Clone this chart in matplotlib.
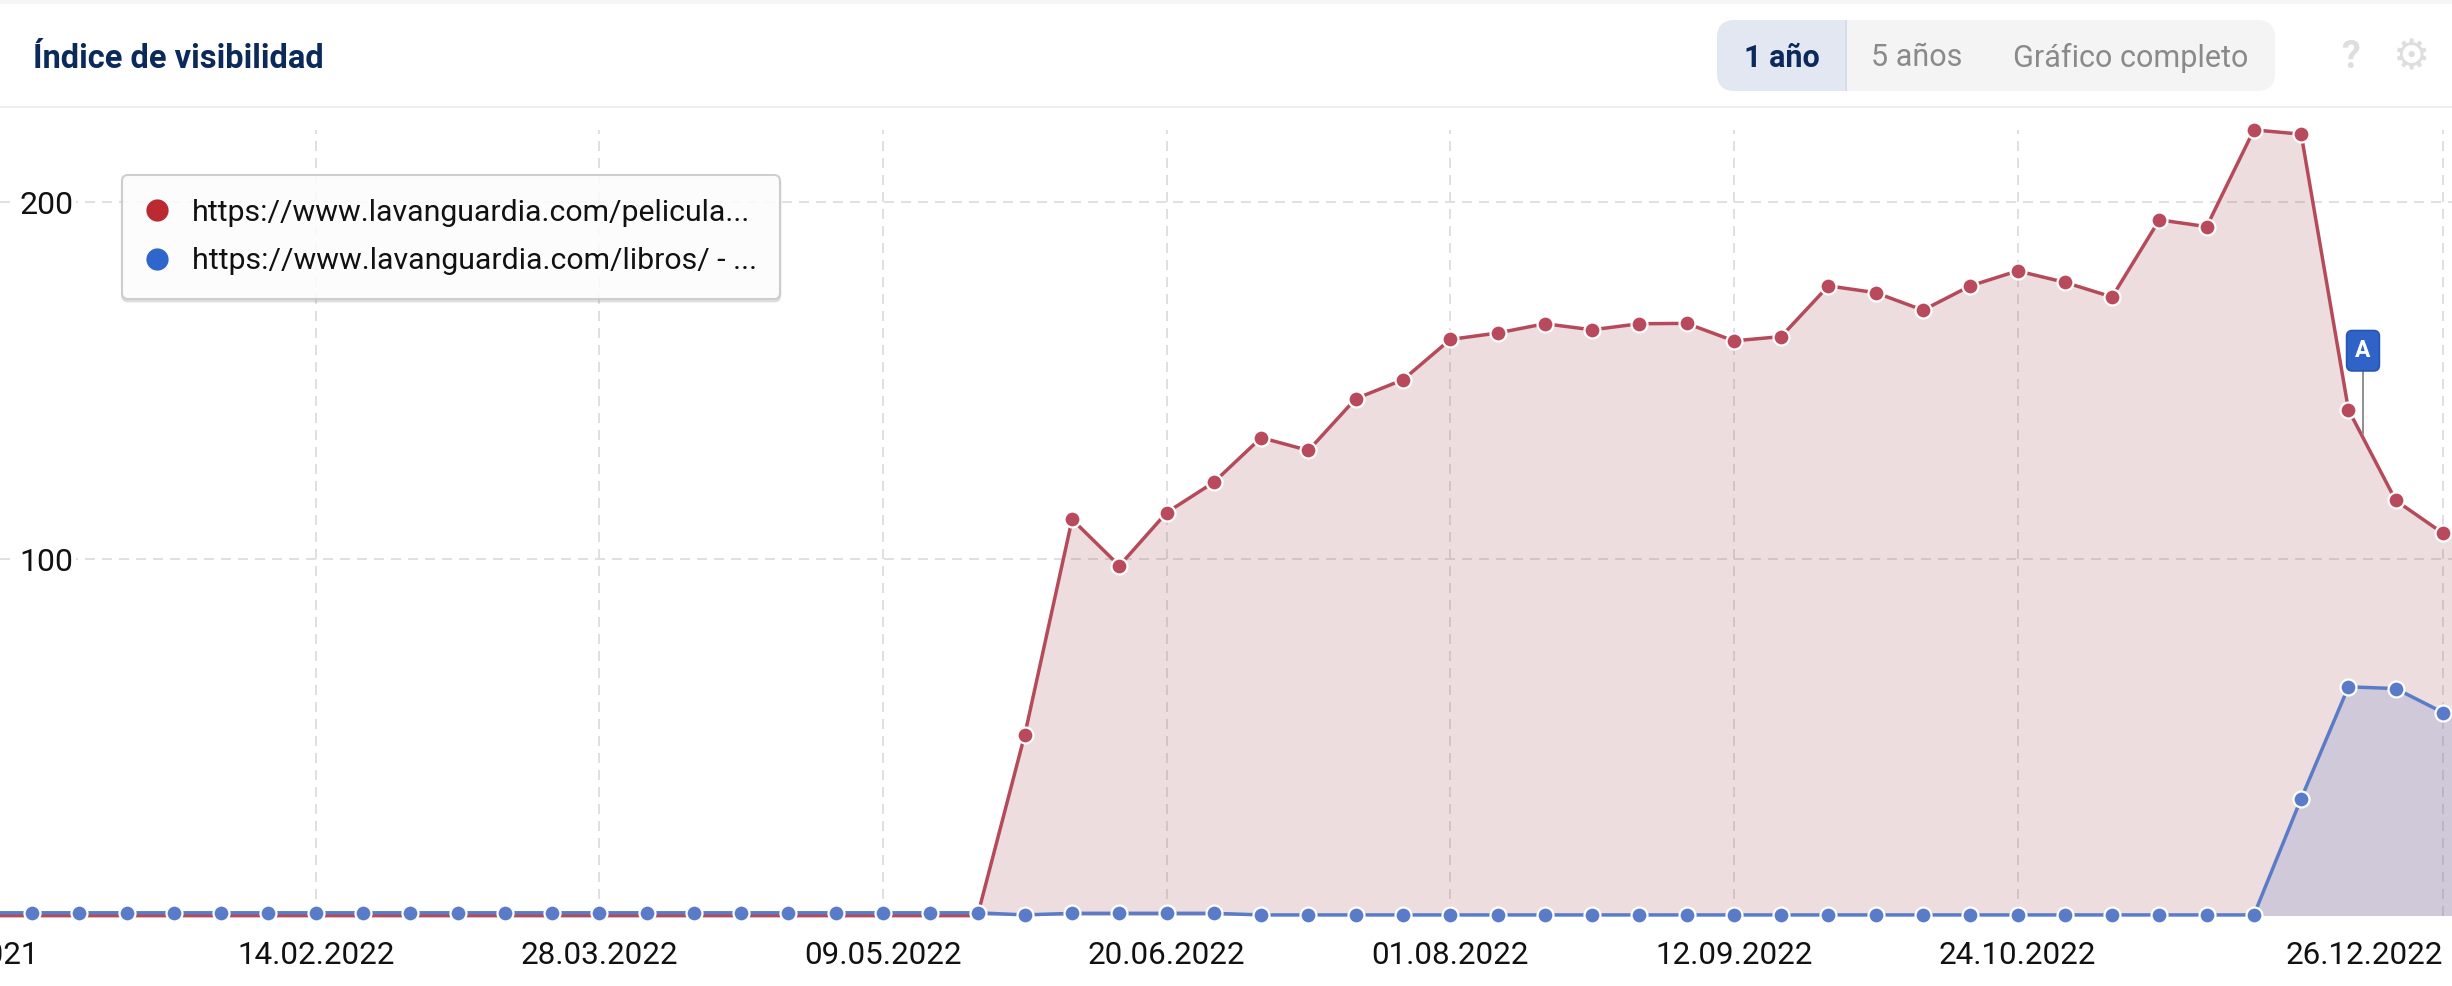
import matplotlib
matplotlib.use("Agg")
import matplotlib.pyplot as plt
import matplotlib.dates as mdates
from matplotlib.lines import Line2D
from matplotlib.patches import FancyBboxPatch, Rectangle
import pandas as pd

plt.rcParams['font.family'] = ['Roboto', 'DejaVu Sans']

W, H = 2452, 986
title = "Índice de visibilidad"
range_buttons = ["1 año", "5 años", "Gráfico completo"]
legend_labels = ["https://www.lavanguardia.com/pelicula...",
                 "https://www.lavanguardia.com/libros/ - ..."]
weeks = pd.date_range("2021-12-27", "2023-01-02", freq="7D")
red_values = [0.1, 0.1, 0.1, 0.1, 0.1, 0.1, 0.1, 0.1, 0.1, 0.1, 0.1,
              0.1, 0.1, 0.1, 0.1, 0.1, 0.1, 0.1, 0.1, 0.1, 0.1, 0.1,
              50.8, 111.1, 98.1, 113.0, 121.5, 134.0, 130.4, 144.9, 150.2, 161.5,
              163.3, 165.9, 164.2, 165.9, 166.0, 161.1, 162.3, 176.5, 174.6, 169.7,
              176.5, 180.7, 177.5, 173.4, 195.0, 193.1, 220.2, 219.0, 141.8, 116.4,
              107.2, 104.0]
blue_values = [0.9, 0.9, 0.9, 0.9, 0.9, 0.9, 0.9, 0.9, 0.9, 0.9, 0.9,
               0.9, 0.9, 0.9, 0.9, 0.9, 0.9, 0.9, 0.9, 0.9, 0.9, 0.9,
               0.3, 0.75, 0.75, 0.75, 0.75, 0.3, 0.3, 0.3, 0.3, 0.3,
               0.3, 0.3, 0.3, 0.3, 0.3, 0.3, 0.3, 0.3, 0.3, 0.3,
               0.3, 0.3, 0.3, 0.3, 0.3, 0.3, 0.3, 32.9, 64.2, 63.7,
               57.0, 53.0]
tick_dates = ["2022-02-14", "2022-03-28", "2022-05-09", "2022-06-20",
              "2022-08-01", "2022-09-12", "2022-10-24", "2022-12-26"]
tick_labels = ["14.02.2022", "28.03.2022", "09.05.2022", "20.06.2022",
               "01.08.2022", "12.09.2022", "24.10.2022", "26.12.2022"]
y_ticks = [100, 200]

fig = plt.figure(figsize=(W / 100, H / 100), dpi=100, facecolor='white')
top_px, bottom_px = 130, 916
ax = fig.add_axes([0, 1 - bottom_px / H, 1, (bottom_px - top_px) / H])
ax.set_facecolor('none')
for s in ax.spines.values():
    s.set_visible(False)

x0 = mdates.date2num(pd.Timestamp("2022-02-14"))
per_day = (2443 - 315.7) / 315
ax.set_xlim(x0 - 315.7 / per_day, x0 + (W - 315.7) / per_day)
ax.set_ylim(0, (bottom_px - top_px) / 3.57)

xs = mdates.date2num(weeks)
ax.fill_between(xs, red_values, 0, color='#a5555f', alpha=0.2, lw=0, zorder=1)
ax.fill_between(xs, blue_values, 0, color='#5a7cc8', alpha=0.2, lw=0, zorder=1.1)
style = dict(lw=2.5, ms=11.5, mew=1.6, mec='white', marker='o', clip_on=False)
red_marked = [i for i, v in enumerate(red_values) if v > 1]
ax.plot(xs, red_values, color='#b54a5a', mfc='#b94a5c', markevery=red_marked, zorder=3, **style)
ax.plot(xs, blue_values, color='#5a7cc8', mfc='#5a7cc8', zorder=4, **style)

ax.set_axisbelow(True)
ax.set_xticks(mdates.date2num(pd.to_datetime(tick_dates)))
ax.set_xticklabels(tick_labels)
ax.set_yticks(y_ticks)
ax.grid(True, color='#e0e0e0', lw=1.44, linestyle=(0, (5, 3.5)))
ax.tick_params(axis='x', length=0, pad=18, labelsize=22.6, labelcolor='#111111')
ax.tick_params(axis='y', length=0, pad=-14, labelsize=23, labelcolor='#111111')
for lab in ax.get_yticklabels():
    lab.set_ha('left')
    lab.set_va('center_baseline')
    lab.set_bbox(dict(fc='white', ec='none', pad=2))
ax.get_xticklabels()[-1].set_ha('right')
ax.annotate("27.12.2021", xy=(0, 0), xycoords='axes fraction', xytext=(-40 * 0.72, -18),
            textcoords='offset points', ha='center', va='top', fontsize=22.6,
            color='#111111', annotation_clip=False)

# event flag
ax.annotate("A", xy=(x0 + (2363 - 315.7) / per_day, 135), xycoords='data',
            xytext=(0, 60), textcoords='offset points', ha='center', va='center',
            fontsize=16.5, fontweight='bold', color='white', zorder=6,
            bbox=dict(boxstyle='round,pad=0.38,rounding_size=0.25', fc='#2f63c8', ec='#2856ad', lw=1.2),
            arrowprops=dict(arrowstyle='-', color='#8f8f8f', lw=1.4, shrinkA=0, shrinkB=0))

# legend
handles = [Line2D([], [], ls='none', marker='o', ms=16, mfc=c, mec='none')
           for c in ('#bb2a30', '#2f66cc')]
leg = ax.legend(handles, legend_labels, loc='upper left',
                bbox_to_anchor=(122 / W, 1 - (175 - top_px) / (bottom_px - top_px)),
                borderaxespad=0, fontsize=21.8, frameon=True, framealpha=0.88,
                fancybox=True, edgecolor='#c8c8c8', facecolor='white',
                labelspacing=0.68, handletextpad=0.77, handlelength=0.75,
                borderpad=0.78, labelcolor='#111111',
                shadow=dict(ox=0, oy=-2, alpha=0.12))
leg.get_frame().set_linewidth(1.5)
leg.set_zorder(7)

# page furniture, in pixel coordinates
over = fig.add_axes([0, 0, 1, 1], zorder=10)
over.set_xlim(0, W)
over.set_ylim(H, 0)
over.axis('off')
over.add_patch(Rectangle((0, 0), W, 3.5, fc='#f6f6f6', ec='none'))
over.add_patch(Rectangle((0, 106), W, 2, fc='#eeeeee', ec='none'))
over.text(33, 59, title, fontsize=23.5, fontweight='bold', color='#0b2a5b', va='center', ha='left')
over.add_patch(FancyBboxPatch((1717, 20), 558, 71, boxstyle='round,pad=0,rounding_size=18',
                              fc='#f4f4f4', ec='none'))
over.add_patch(FancyBboxPatch((1717, 20), 130, 71, boxstyle='round,pad=0,rounding_size=18',
                              fc='#e2e7f1', ec='none'))
over.add_patch(Rectangle((1800, 20), 47, 71, fc='#e2e7f1', ec='none'))
over.add_patch(Rectangle((1845, 20), 2, 71, fc='#d5dbe9', ec='none'))
over.text(1782, 58, range_buttons[0], fontsize=22, fontweight='bold', color='#0b2a5b', ha='center', va='center')
over.text(1917, 58, range_buttons[1], fontsize=22, color='#8a8a8a', ha='center', va='center')
over.text(2131, 58, range_buttons[2], fontsize=22, color='#8a8a8a', ha='center', va='center')
over.text(2350, 57, "?", fontsize=27, fontweight='bold', color='#dedede', ha='center', va='center')
over.text(2411, 57, "\u2699", fontsize=30, color='#dedede', ha='center', va='center', family='DejaVu Sans')

fig.savefig("out.png", dpi=100)
